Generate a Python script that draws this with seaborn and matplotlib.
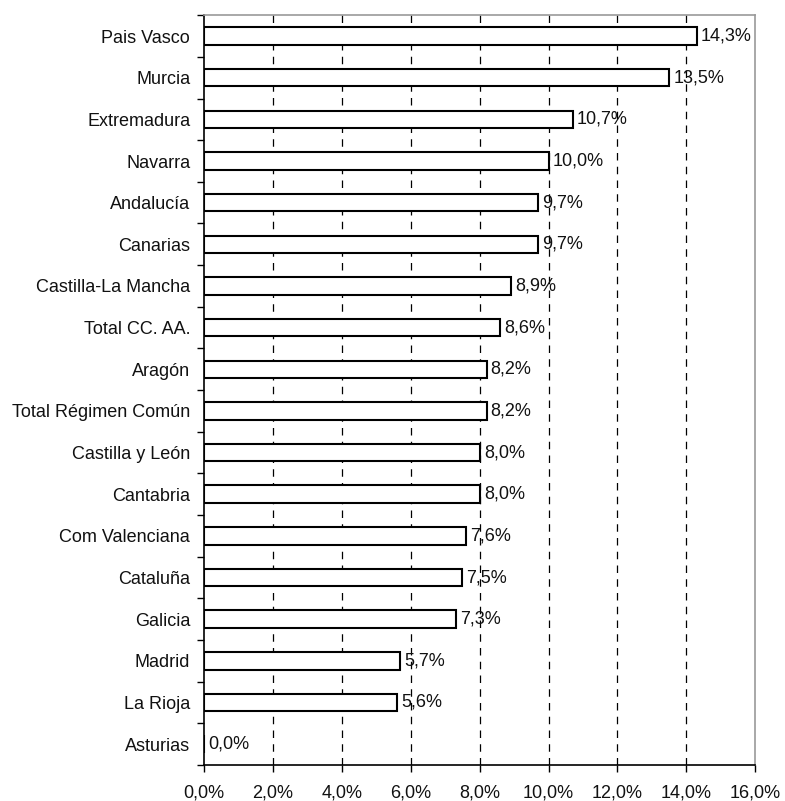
import numpy as np
import pandas as pd
import matplotlib
matplotlib.use("Agg")
import matplotlib.pyplot as plt
import seaborn as sns

# Regions and their values (%)
regions = ['Pais Vasco', 'Murcia', 'Extremadura', 'Navarra', 'Andalucía', 'Canarias',
           'Castilla-La Mancha', 'Total CC. AA.', 'Aragón', 'Total Régimen Común',
           'Castilla y León', 'Cantabria', 'Com Valenciana', 'Cataluña', 'Galicia',
           'Madrid', 'La Rioja', 'Asturias']
values = [14.3, 13.5, 10.7, 10.0, 9.7, 9.7, 8.9, 8.6, 8.2, 8.2,
          8.0, 8.0, 7.6, 7.5, 7.3, 5.7, 5.6, 0.0]
x_ticks = [0, 2, 4, 6, 8, 10, 12, 14, 16]

df = pd.DataFrame({'region': regions, 'value': values})

sns.set_style('white')
plt.rcParams['font.family'] = ['Liberation Sans', 'DejaVu Sans']
fs = 13

fig = plt.figure(figsize=(7.85, 8.01), dpi=100)
ax = fig.add_axes([0.260, 0.045, 0.702, 0.936])

sns.barplot(data=df, x='value', y='region', order=regions, orient='h',
            color='white', edgecolor='black', linewidth=1.5, width=0.42,
            saturation=1, ax=ax)

# value labels with comma decimals
labels = [f"{v:.1f}%".replace('.', ',') for v in values]
ax.bar_label(ax.containers[0], labels=labels, padding=3, fontsize=fs, color='#111111')

ax.set_xlim(0, 16)
ax.set_ylim(len(regions) - 0.5, -0.5)
ax.set_xticks(x_ticks)
ax.set_xticklabels([f"{t:.1f}%".replace('.', ',') for t in x_ticks])
for t in x_ticks[1:-1]:
    ax.axvline(t, color='black', linestyle=(0, (6, 5)), linewidth=0.9, zorder=0)

ax.set_yticks(np.arange(-0.5, len(regions)), minor=True)
ax.tick_params(axis='y', which='major', length=0, pad=10, labelsize=fs, colors='#111111')
ax.tick_params(axis='y', which='minor', length=5, width=1, color='black', direction='out', left=True)
ax.tick_params(axis='x', which='major', length=5, width=1, color='black', direction='out',
               bottom=True, pad=9, labelsize=fs, labelcolor='#111111')

ax.set_xlabel('')
ax.set_ylabel('')
for side in ['left', 'bottom']:
    ax.spines[side].set_color('black')
    ax.spines[side].set_linewidth(1.2)
for side in ['top', 'right']:
    ax.spines[side].set_visible(True)
    ax.spines[side].set_color('#999999')
    ax.spines[side].set_linewidth(1.2)

plt.savefig('out.png', dpi=100)
